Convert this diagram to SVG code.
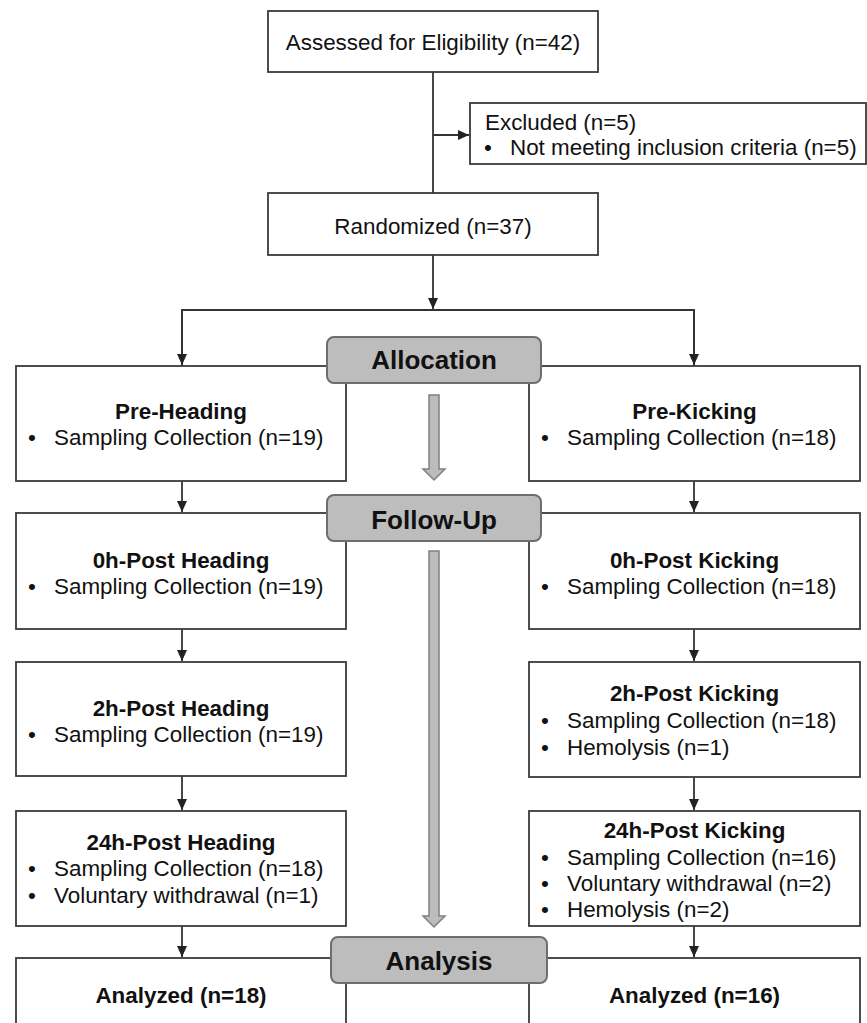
<svg xmlns="http://www.w3.org/2000/svg" width="867" height="1023" viewBox="0 0 867 1023">
<style>
  .box { fill: #ffffff; stroke: #3a3a3a; stroke-width: 1.8; }
  .lbl { fill: #bdbdbd; stroke: #6e6e6e; stroke-width: 2; }
  .conn { fill: none; stroke: #333333; stroke-width: 1.8; }
  .garrow { fill: #bcbcbc; stroke: #808080; stroke-width: 1.5; }
  text { font-family: "Liberation Sans", Arial, sans-serif; font-size: 22.4px; fill: #111111; }
  .b { font-weight: bold; }
  .c { text-anchor: middle; }
  .big { font-size: 26px; font-weight: bold; text-anchor: middle; }
</style>
<defs>
  <marker id="ah" markerUnits="userSpaceOnUse" markerWidth="12" markerHeight="12" viewBox="0 0 12 12" refX="11" refY="6" orient="auto">
    <path d="M0,1 L11,6 L0,11 Z" fill="#222222"/>
  </marker>
</defs>

<g id="connectors">
  <line class="conn" x1="433" y1="72" x2="433" y2="193"/>
  <line class="conn" x1="433" y1="135" x2="469" y2="135" marker-end="url(#ah)"/>
  <line class="conn" x1="433" y1="255" x2="433" y2="309" marker-end="url(#ah)"/>
  <polyline class="conn" points="182,366 182,310 694,310 694,366"/>
  <line class="conn" x1="182" y1="310" x2="182" y2="365" marker-end="url(#ah)"/>
  <line class="conn" x1="694" y1="310" x2="694" y2="365" marker-end="url(#ah)"/>
  <line class="conn" x1="182" y1="481" x2="182" y2="512" marker-end="url(#ah)"/>
  <line class="conn" x1="182" y1="629" x2="182" y2="661" marker-end="url(#ah)"/>
  <line class="conn" x1="182" y1="776" x2="182" y2="810" marker-end="url(#ah)"/>
  <line class="conn" x1="182" y1="926" x2="182" y2="957" marker-end="url(#ah)"/>
  <line class="conn" x1="694" y1="481" x2="694" y2="512" marker-end="url(#ah)"/>
  <line class="conn" x1="694" y1="629" x2="694" y2="661" marker-end="url(#ah)"/>
  <line class="conn" x1="694" y1="777" x2="694" y2="810" marker-end="url(#ah)"/>
  <line class="conn" x1="694" y1="926" x2="694" y2="957" marker-end="url(#ah)"/>
  <polygon class="garrow" points="429,395 439,395 439,469 445,469 434,480 423,469 429,469"/>
  <polygon class="garrow" points="429,551 439,551 439,916 445,916 434,927 423,916 429,916"/>
</g>

<g id="assessed">
  <rect class="box" x="268" y="11" width="330" height="61"/>
  <text class="c" x="433" y="50">Assessed for Eligibility (n=42)</text>
</g>
<g id="excluded">
  <rect class="box" x="470" y="103" width="396" height="61"/>
  <text x="485" y="130">Excluded (n=5)</text>
  <text x="484" y="155">•</text>
  <text x="510" y="155">Not meeting inclusion criteria (n=5)</text>
</g>
<g id="randomized">
  <rect class="box" x="268" y="193" width="330" height="62"/>
  <text class="c" x="433" y="234">Randomized (n=37)</text>
</g>

<g id="pre-heading">
  <rect class="box" x="16" y="366" width="330" height="115"/>
  <text class="b c" x="181" y="419">Pre-Heading</text>
  <text x="28" y="445">•</text>
  <text x="54" y="445">Sampling Collection (n=19)</text>
</g>
<g id="pre-kicking">
  <rect class="box" x="529" y="366" width="331" height="115"/>
  <text class="b c" x="694.5" y="419">Pre-Kicking</text>
  <text x="541" y="445">•</text>
  <text x="567" y="445">Sampling Collection (n=18)</text>
</g>

<g id="post0-heading">
  <rect class="box" x="16" y="513" width="330" height="116"/>
  <text class="b c" x="181" y="568">0h-Post Heading</text>
  <text x="28" y="594">•</text>
  <text x="54" y="594">Sampling Collection (n=19)</text>
</g>
<g id="post0-kicking">
  <rect class="box" x="529" y="513" width="331" height="116"/>
  <text class="b c" x="694.5" y="568">0h-Post Kicking</text>
  <text x="541" y="594">•</text>
  <text x="567" y="594">Sampling Collection (n=18)</text>
</g>

<g id="post2-heading">
  <rect class="box" x="16" y="662" width="330" height="114"/>
  <text class="b c" x="181" y="716">2h-Post Heading</text>
  <text x="28" y="742">•</text>
  <text x="54" y="742">Sampling Collection (n=19)</text>
</g>
<g id="post2-kicking">
  <rect class="box" x="529" y="662" width="331" height="115"/>
  <text class="b c" x="694.5" y="701">2h-Post Kicking</text>
  <text x="541" y="728">•</text>
  <text x="567" y="728">Sampling Collection (n=18)</text>
  <text x="541" y="755">•</text>
  <text x="567" y="755">Hemolysis (n=1)</text>
</g>

<g id="post24-heading">
  <rect class="box" x="16" y="811" width="330" height="115"/>
  <text class="b c" x="181" y="850">24h-Post Heading</text>
  <text x="28" y="876">•</text>
  <text x="54" y="876">Sampling Collection (n=18)</text>
  <text x="28" y="903">•</text>
  <text x="54" y="903">Voluntary withdrawal (n=1)</text>
</g>
<g id="post24-kicking">
  <rect class="box" x="529" y="811" width="331" height="115"/>
  <text class="b c" x="694.5" y="838">24h-Post Kicking</text>
  <text x="541" y="865">•</text>
  <text x="567" y="865">Sampling Collection (n=16)</text>
  <text x="541" y="891">•</text>
  <text x="567" y="891">Voluntary withdrawal (n=2)</text>
  <text x="541" y="917">•</text>
  <text x="567" y="917">Hemolysis (n=2)</text>
</g>

<g id="analyzed-heading">
  <rect class="box" x="16" y="958" width="330" height="80"/>
  <text class="b c" x="181" y="1003">Analyzed (n=18)</text>
</g>
<g id="analyzed-kicking">
  <rect class="box" x="529" y="958" width="331" height="80"/>
  <text class="b c" x="694.5" y="1003">Analyzed (n=16)</text>
</g>

<g id="allocation">
  <rect class="lbl" x="327" y="337" width="214" height="46" rx="7"/>
  <text class="big" x="434" y="369">Allocation</text>
</g>
<g id="follow-up">
  <rect class="lbl" x="327" y="495" width="214" height="46" rx="7"/>
  <text class="big" x="434" y="529">Follow-Up</text>
</g>
<g id="analysis">
  <rect class="lbl" x="331" y="937" width="216" height="46" rx="7"/>
  <text class="big" x="439" y="970">Analysis</text>
</g>
</svg>
